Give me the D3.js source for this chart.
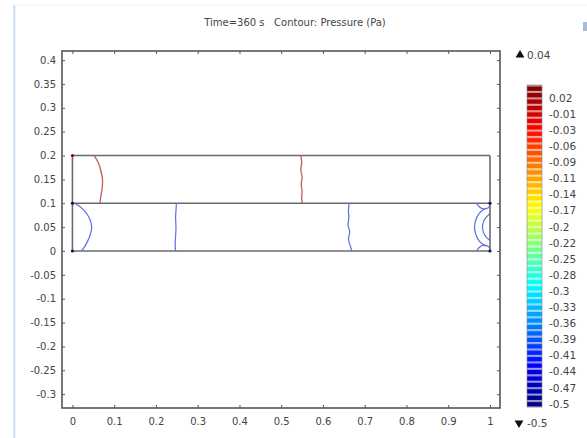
<!DOCTYPE html>
<html>
<head>
<meta charset="utf-8">
<script src="https://cdn.jsdelivr.net/npm/d3@7"></script>
<style>
body { margin: 0; background: #fff; }
svg { display: block; font-family: "DejaVu Sans", sans-serif; }
</style>
</head>
<body>
<svg id="chart"></svg>
<script>
var width = 587;
var height = 438;

// axis ticks
var xTicks = [0, 0.1, 0.2, 0.3, 0.4, 0.5, 0.6, 0.7, 0.8, 0.9, 1];
var yTicks = [0.4, 0.35, 0.3, 0.25, 0.2, 0.15, 0.1, 0.05, 0, -0.05, -0.1, -0.15, -0.2, -0.25, -0.3];

// geometry: horizontal boundaries of the two channels
var boundaryY = [0, 0.1, 0.2];
var boundaryX = [0, 1];

// contour lines (x, y)
var redContours = [
	[[0.052, 0.2], [0.062, 0.185], [0.069, 0.165], [0.072, 0.15], [0.071, 0.13], [0.068, 0.115], [0.066, 0.1]],
	[[0.547, 0.2], [0.549, 0.185], [0.547, 0.17], [0.550, 0.155], [0.548, 0.14], [0.550, 0.125], [0.549, 0.11], [0.551, 0.1]]
];
var blueContours = [
	[[0.004, 0.1], [0.015, 0.095], [0.03, 0.083], [0.042, 0.066], [0.046, 0.05], [0.043, 0.035], [0.035, 0.018], [0.026, 0.005], [0.021, 0]],
	[[0.249, 0.1], [0.248, 0.085], [0.247, 0.07], [0.248, 0.05], [0.247, 0.03], [0.246, 0.012], [0.247, 0]],
	[[0.663, 0.1], [0.661, 0.085], [0.662, 0.07], [0.660, 0.055], [0.664, 0.04], [0.661, 0.025], [0.665, 0.012], [0.669, 0]],
	[[0.968, 0.1], [0.975, 0.092], [0.985, 0.088], [0.995, 0.09], [1, 0.095]],
	[[0.968, 0], [0.975, 0.008], [0.985, 0.012], [0.995, 0.01], [1, 0.005]],
	[[0.99, 0.09], [0.975, 0.08], [0.966, 0.065], [0.963, 0.05], [0.966, 0.035], [0.975, 0.02], [0.99, 0.01]],
	[[1, 0.078], [0.99, 0.07], [0.984, 0.06], [0.982, 0.05], [0.984, 0.04], [0.99, 0.03], [1, 0.022]]
];
var cornerDots = [[0, 0.2, "#7a1010"], [0, 0.1, "#101060"], [0, 0, "#101060"], [1, 0.1, "#101060"], [1, 0, "#101060"]];

// colour legend
var legendLabels = ["0.02", "-0.01", "-0.03", "-0.06", "-0.09", "-0.11", "-0.14", "-0.17", "-0.2", "-0.22",
	"-0.25", "-0.28", "-0.3", "-0.33", "-0.36", "-0.39", "-0.41", "-0.44", "-0.47", "-0.5"];
var legendMax = 0.04;
var legendMin = -0.5;
var stripeCount = 50;

var svg = d3.select("#chart")
	.attr("width", width)
	.attr("height", height);

// panel decoration
svg.append("rect").attr("x", 13).attr("y", 5).attr("width", 2.5).attr("height", height - 5).attr("fill", "#d4e6f6");
svg.append("line").attr("x1", 15).attr("x2", width).attr("y1", 5).attr("y2", 5).attr("stroke", "#eef2f6");
svg.append("rect").attr("x", 583).attr("y", 22).attr("width", 5).attr("height", 9).attr("fill", "#a8bcd8");

var x = d3.scaleLinear().domain([-0.025, 1.024]).range([62, 500]);
var y = d3.scaleLinear().domain([-0.329, 0.419]).range([408, 51]);

var fmt = function (d) { return String(+d.toFixed(2)); };

// title
svg.append("text")
	.attr("x", 295)
	.attr("y", 26)
	.attr("text-anchor", "middle")
	.attr("font-size", 10)
	.attr("fill", "#444")
	.attr("xml:space", "preserve")
	.text("Time=360 s   Contour: Pressure (Pa)");

// axes with inward ticks
var axisColor = "#555";
function styleAxis(g, showText) {
	g.select(".domain").remove();
	g.selectAll(".tick line").attr("stroke", axisColor).attr("stroke-width", 1);
	g.selectAll(".tick text").attr("fill", "#444").attr("font-size", 10)
		.attr("font-family", "DejaVu Sans, sans-serif");
	if (!showText) g.selectAll(".tick text").remove();
}

var bottomAxis = svg.append("g").attr("transform", "translate(0,408)")
	.call(d3.axisBottom(x).tickValues(xTicks).tickFormat(fmt).tickSizeInner(-3).tickSizeOuter(0).tickPadding(10));
styleAxis(bottomAxis, true);

var topAxis = svg.append("g").attr("transform", "translate(0,51)")
	.call(d3.axisTop(x).tickValues(xTicks).tickSizeInner(-3).tickSizeOuter(0));
styleAxis(topAxis, false);

var leftAxis = svg.append("g").attr("transform", "translate(62,0)")
	.call(d3.axisLeft(y).tickValues(yTicks).tickFormat(fmt).tickSizeInner(-3).tickSizeOuter(0).tickPadding(6));
styleAxis(leftAxis, true);

var rightAxis = svg.append("g").attr("transform", "translate(500,0)")
	.call(d3.axisRight(y).tickValues(yTicks).tickSizeInner(-3).tickSizeOuter(0));
styleAxis(rightAxis, false);

// plot frame
svg.append("rect")
	.attr("x", 62).attr("y", 51)
	.attr("width", 500 - 62).attr("height", 408 - 51)
	.attr("fill", "none")
	.attr("stroke", axisColor)
	.attr("stroke-width", 1.6);

// domain boundaries
var geo = svg.append("g").attr("stroke", "#6a6a6a").attr("stroke-width", 1.6).attr("fill", "none");
geo.selectAll("line.h").data(boundaryY).enter().append("line")
	.attr("class", "h")
	.attr("x1", x(boundaryX[0])).attr("x2", x(boundaryX[1]))
	.attr("y1", d => y(d)).attr("y2", d => y(d));
geo.selectAll("line.v").data(boundaryX).enter().append("line")
	.attr("class", "v")
	.attr("x1", d => x(d)).attr("x2", d => x(d))
	.attr("y1", y(boundaryY[0])).attr("y2", y(boundaryY[2]));

// contours
var line = d3.line().x(d => x(d[0])).y(d => y(d[1])).curve(d3.curveCatmullRom);

svg.append("g").selectAll("path").data(redContours).enter().append("path")
	.attr("d", line)
	.attr("fill", "none")
	.attr("stroke", "#c45a5a")
	.attr("stroke-width", 1.3);

svg.append("g").selectAll("path").data(blueContours).enter().append("path")
	.attr("d", line)
	.attr("fill", "none")
	.attr("stroke", "#5b6ee6")
	.attr("stroke-width", 1.2);

svg.append("g").selectAll("circle").data(cornerDots).enter().append("circle")
	.attr("cx", d => x(d[0])).attr("cy", d => y(d[1]))
	.attr("r", 1.6)
	.attr("fill", d => d[2]);

// jet colour map
function jet(t) {
	var r = Math.max(0, Math.min(1, 1.5 - Math.abs(4 * t - 3)));
	var g = Math.max(0, Math.min(1, 1.5 - Math.abs(4 * t - 2)));
	var b = Math.max(0, Math.min(1, 1.5 - Math.abs(4 * t - 1)));
	return d3.rgb(r * 255, g * 255, b * 255);
}

var barX = 527, barW = 15, barTop = 85, barBottom = 407;
var stripeScale = d3.scaleBand().domain(d3.range(stripeCount)).range([barTop, barBottom]).paddingInner(0);
var legend = svg.append("g");
legend.selectAll("rect.bg").data(d3.range(stripeCount)).enter().append("rect")
	.attr("class", "bg")
	.attr("x", barX).attr("width", barW)
	.attr("y", d => stripeScale(d)).attr("height", stripeScale.bandwidth() + 0.2)
	.attr("fill", d => d3.interpolateRgb(jet(1 - d / (stripeCount - 1)), "#fff")(0.55));
legend.selectAll("rect.fg").data(d3.range(stripeCount)).enter().append("rect")
	.attr("class", "fg")
	.attr("x", barX).attr("width", barW)
	.attr("y", d => stripeScale(d) + 1.6).attr("height", stripeScale.bandwidth() - 2.2)
	.attr("fill", d => jet(1 - d / (stripeCount - 1)));
legend.append("rect")
	.attr("x", barX).attr("y", barTop).attr("width", barW).attr("height", barBottom - barTop)
	.attr("fill", "none").attr("stroke", "#888").attr("stroke-width", 0.6);

var labelScale = d3.scalePoint().domain(legendLabels).range([98, 404]);
legend.selectAll("text.lvl").data(legendLabels).enter().append("text")
	.attr("class", "lvl")
	.attr("x", 549)
	.attr("y", d => labelScale(d))
	.attr("dy", "0.35em")
	.attr("font-size", 10.5)
	.attr("fill", "#444")
	.text(d => d);

// max / min markers
svg.append("path").attr("d", d3.symbol(d3.symbolTriangle, 34)()).attr("transform", "translate(520,55)").attr("fill", "#111");
svg.append("text").attr("x", 527).attr("y", 55).attr("dy", "0.35em").attr("font-size", 10.5).attr("fill", "#444").text(fmt(legendMax));
svg.append("path").attr("d", d3.symbol(d3.symbolTriangle, 34)()).attr("transform", "translate(519,423) rotate(180)").attr("fill", "#111");
svg.append("text").attr("x", 527).attr("y", 423).attr("dy", "0.35em").attr("font-size", 10.5).attr("fill", "#444").text(fmt(legendMin));
</script>
</body>
</html>
